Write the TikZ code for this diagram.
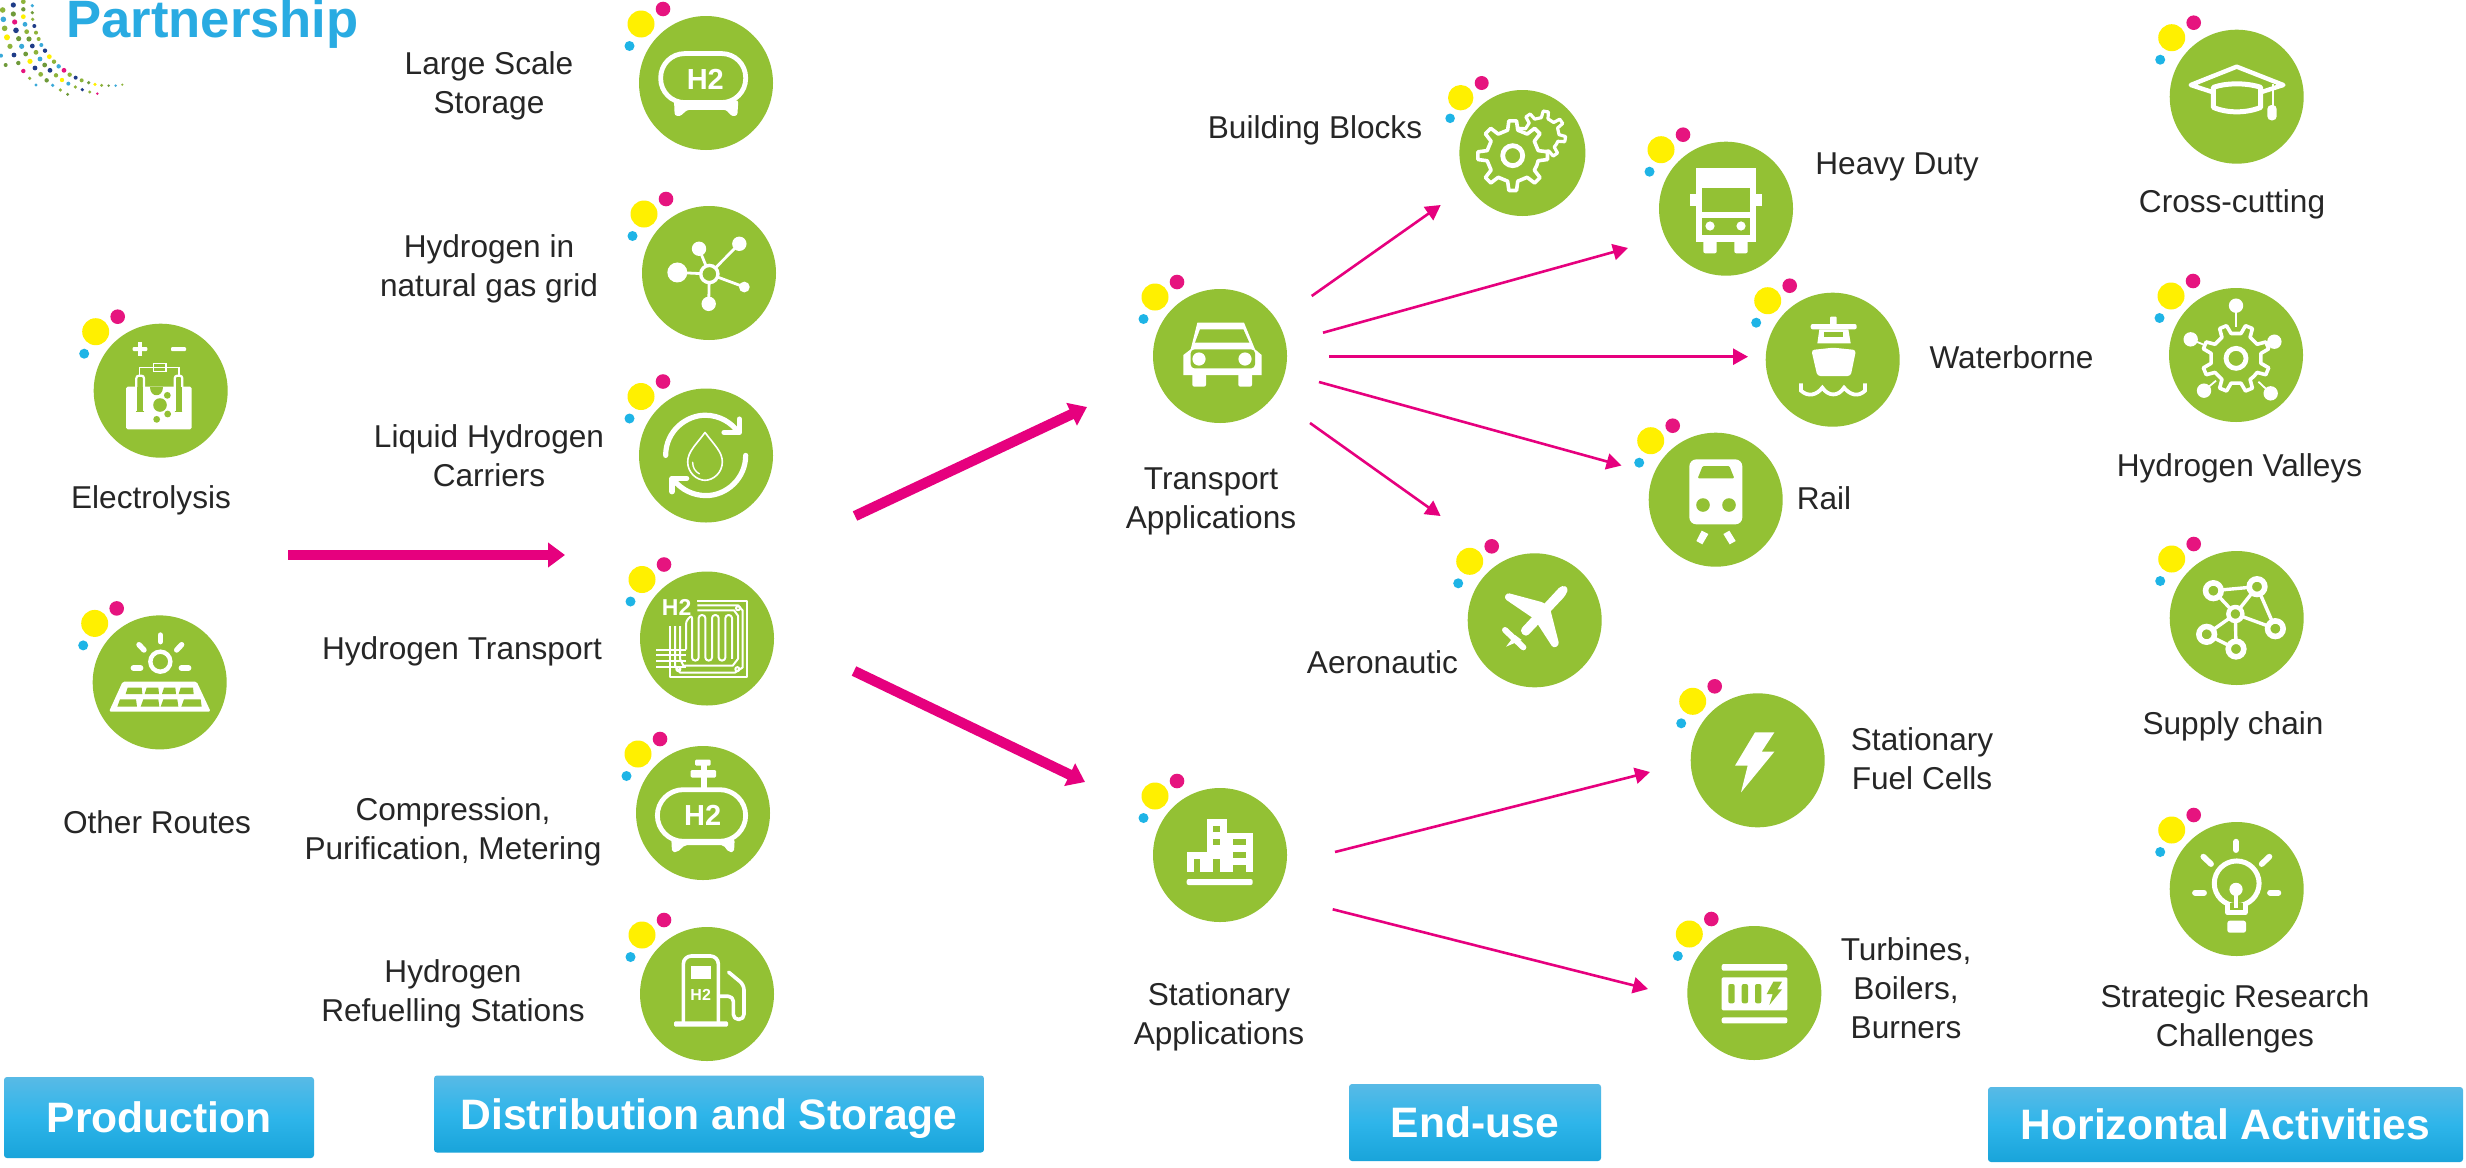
\documentclass[tikz,border=0pt]{standalone}
\usepackage{fontspec}
\setmainfont{Liberation Sans}
\usetikzlibrary{arrows.meta,calc}
\definecolor{hubgreen}{HTML}{93C134}
\definecolor{dotyel}{HTML}{FFF000}
\definecolor{dotmag}{HTML}{E6147F}
\definecolor{dotblu}{HTML}{1EB4E6}
\definecolor{arrmag}{HTML}{E6007E}
\definecolor{txt}{HTML}{262626}
\definecolor{hdtop}{HTML}{58BAE6}
\definecolor{hdmid}{HTML}{2EB5EA}
\definecolor{hdbot}{HTML}{19A4DA}
\definecolor{lnavy}{HTML}{1F3C88}
\definecolor{lolive}{HTML}{8DB33A}
\definecolor{ldark}{HTML}{6F9A3A}
\definecolor{lblue}{HTML}{3AA9D9}
\definecolor{partblue}{HTML}{29ABE2}
\tikzset{
  hubc/.style={circle,fill=hubgreen,draw=none,minimum size=67pt,inner sep=0pt,outer sep=0pt},
  lab/.style={font=\fontsize{15.8}{19.5}\selectfont,text=txt,align=center,inner sep=0pt},
  hdr/.style={rectangle,rounded corners=1.5pt,top color=hdtop,bottom color=hdbot,middle color=hdmid,text=white,
    font=\fontsize{21.3}{25}\selectfont\bfseries,inner sep=0pt,text height=15pt,text depth=0pt},
  thick arrow/.style={draw=arrmag,line width=5.2pt,-{Triangle[length=8.5pt,width=12pt]}},
  thin arrow/.style={draw=arrmag,line width=1.3pt,-{Triangle[length=7.5pt,width=8pt]}},
  wl/.style={draw=white,line cap=round,line join=round},
  wf/.style={fill=white},
  gf/.style={fill=hubgreen},
  wtxt/.style={text=white,inner sep=0pt,font=\bfseries},
}
\newcommand\hub[3]{%
  \node[hubc] (#1) at (#2,#3) {};
  \fill[dotyel] (#2-65,#3-59) circle (6.75pt);
  \fill[dotmag] (#2-43,#3-74) circle (3.65pt);
  \fill[dotblu] (#2-76.5,#3-37) circle (2.5pt);
}
\newcommand\gearshape[7]{%
  \begin{scope}[shift={(#1,#2)}]
  \path[#7] ({#6+.5*360/#5}:#4) \foreach \i in {1,...,#5}{
     -- ({#6+\i*360/#5-.25*360/#5}:#4) -- ({#6+\i*360/#5-.14*360/#5}:#3)
     -- ({#6+\i*360/#5+.14*360/#5}:#3) -- ({#6+\i*360/#5+.25*360/#5}:#4)} -- cycle;
  \end{scope}}
\newcommand\zoomiso[2]{\begin{scope}[shift={(#1,#2)},x=.166667pt,y=-.166667pt]}
\begin{document}
\begin{tikzpicture}[x=.5pt,y=-.5pt]
\clip (0,0) rectangle (2466,1167);
\fill[white] (0,0) rectangle (2466,1167);

% ---- logo fragment
\node[anchor=base west,inner sep=0pt,text=partblue,font=\fontsize{26.3}{30}\selectfont\bfseries] (partner) at (66,37.7) {Partnership};
\zoomiso{0}{0}
\foreach \x/\y/\c/\r in {40/15/lnavy/1.3,70/5/lolive/1.2,97/17/lblue/.9,8/30/lolive/1.4,40/42/ldark/1.3,70/28/ldark/1.1,97/38/ldark/.9,
 10/58/lblue/1.4,44/66/dotmag/1.3,70/50/dotyel/1.2,98/58/lolive/.9,75/73/lblue/1.2,103/78/lnavy/1,14/85/lolive/1.4,48/91/lnavy/1.4,80/95/lolive/1.2,108/98/lolive/1,
 21/112/dotyel/1.5,56/116/ldark/1.3,87/117/ldark/1.3,116/117/lolive/1,124/135/lblue/1,30/139/lolive/1.3,65/139/lblue/1.3,97/138/lnavy/1.2,135/152/lnavy/1.1,
 3/167/lblue/1,42/165/lnavy/1.2,77/162/ldark/1.2,108/157/lolive/1.2,148/170/dotyel/1.2,162/185/lolive/1.1,120/177/lblue/1.2,17/195/ldark/1,55/189/ldark/1.1,
 90/184/dotyel/1.3,134/195/ldark/1.2,176/199/lblue/1.1,192/211/dotmag/1.2,105/204/lnavy/1.2,150/211/lnavy/1.2,70/213/dotmag/1.1,209/224/lolive/1.1,227/233/lnavy/1,
 122/223/lolive/1.2,168/226/lolive/1.1,245/241/lolive/1,186/240/dotyel/1.1,140/241/ldark/1.1,266/248/ldark/.9,89/235/lolive/.9,285/253/dotyel/.9,305/256/lolive/.8,
 326/257/ldark/.7,347/257/lblue/.7,367/254/lolive/.6,205/251/lblue/1,226/261/lolive/.9,247/269/lnavy/.9,269/276/lolive/.8,292/281/dotmag/.7,108/255/lblue/.8,
 158/256/lblue/.9,181/270/lolive/.9,203/283/ldark/.8}{
  \fill[\c] (\x,\y) circle (\r pt);
}
\end{scope}

% ---- hubs
\hub{electro}{160.7}{390.7}
\hub{other}{159.7}{682.4}
\hub{large}{706}{83}
\hub{gasgrid}{709}{273}
\hub{liquid}{706}{455.5}
\hub{htrans}{707}{638.5}
\hub{compr}{703}{813}
\hub{refuel}{707}{994}
\hub{transp}{1220}{356}
\hub{stat}{1220}{855}
% Building Blocks is slightly smaller than the others
\node[hubc,minimum size=63pt] (build) at (1522.4,153) {};
\fill[dotyel] (1460.7,97.7) circle (6.35pt);
\fill[dotmag] (1481.7,83) circle (3.5pt);
\fill[dotblu] (1450.1,118.3) circle (2.4pt);
\hub{heavy}{1726}{208.7}
\hub{water}{1832.7}{359.7}
\hub{rail}{1715.7}{499.7}
\hub{aero}{1534.7}{620.3}
\hub{fuelc}{1757.7}{760.3}
\hub{turb}{1754.3}{993}
\hub{cross}{2236.7}{96.7}
\hub{valley}{2236}{355}
\hub{supply}{2236.7}{618}
\hub{strat}{2236.7}{889}

% ---- Electrolysis icon
\zoomiso{60}{290}
\fill[white,rounded corners=.8pt] (198,290) rectangle (395,418);
\fill[white] (232,172) rectangle (248,182); \fill[white] (235,155) rectangle (245,199);
\fill[white,rounded corners=.5pt] (218,171) rectangle (262,183);
\fill[white,rounded corners=.5pt] (333,171) rectangle (378,183);
\draw[white,line width=.7pt] (238,262)--(238,232)--(357,232)--(357,262);
\draw[white,line width=.7pt,fill=hubgreen] (280,220) rectangle (318,245);
\draw[white,line width=.7pt] (280,232)--(318,232);
\draw[white,fill=hubgreen,line width=1.1pt,rounded corners=1.3pt] (229,365)--(229,257)--(252,257)--(252,365);
\draw[white,fill=hubgreen,line width=1.1pt,rounded corners=1.3pt] (344,365)--(344,257)--(367,257)--(367,365);
\fill[hubgreen] (231,290) rectangle (250,362);
\fill[hubgreen] (347,290) rectangle (365,362);
\fill[hubgreen] (229,362) rectangle (252,366);
\fill[hubgreen] (344,362) rectangle (367,366);
\fill[hubgreen] (270,290) .. controls (270,325) and (310,325) .. (310,290) -- cycle;
\fill[hubgreen] (300,345) circle (3.4pt);
\fill[hubgreen] (322,316) circle (1.7pt);
\fill[hubgreen] (323,372) circle (1.7pt);
\fill[hubgreen] (290,388) circle (1.7pt);
\end{scope}

% ---- Other routes icon (sun + panel)
\zoomiso{90}{610}
\draw[white,line width=2.2pt] (211,155) circle (5pt);
\foreach \a/\b/\c/\d in {211/75/211/95,147/104/162/120,275/104/260/120,130/174/152/174,274/174/296/174}{
  \draw[wl,line width=2.7pt] (\a,\b)--(\c,\d);}
\fill[white,rounded corners=.8pt] (98,215)--(320,215)--(362,305)--(57,305)--cycle;
\foreach \a/\b in {113/155,170/205,222/256,272/309}{\fill[hubgreen] (\a,233) -- (\b,233) -- (\b+2,252) -- (\a-6,252) -- cycle;}
\foreach \a/\b in {90/138,160/205,220/262,282/332}{\fill[hubgreen] (\a,268) -- (\b,268) -- (\b+3,290) -- (\a-8,290) -- cycle;}
\end{scope}

% ---- Large scale storage
\begin{scope}[shift={(600,0)},x=.166667pt,y=-.19135pt]
\fill[white,rounded corners=1.2pt] (222,262)--(224,302)--(240,304)--(262,287)--(378,287)--(396,304)--(412,302)--(415,262)--cycle;
\draw[draw=white,fill=hubgreen,line width=2.4pt,rounded corners=12pt] (182,140) rectangle (437,268);
\node[wtxt,font=\fontsize{14.5}{16}\selectfont\bfseries] (h2large) at (316,208) {H2};
\end{scope}

% ---- Gas grid icon
\begin{scope}[shift={(600,0)},x=.166667pt,y=-.19135pt]
\foreach \a/\b in {232/712,297/650,418/637,433/750,326/794}{\draw[white,line width=1.4pt] (328,716)--(\a,\b);}
\fill[white] (232,712) circle (5pt);
\fill[white] (297,650) circle (3.6pt);
\fill[white] (418,637) circle (3.6pt);
\fill[white] (433,750) circle (2.7pt);
\fill[white] (326,794) circle (3.6pt);
\draw[white,fill=hubgreen,line width=1.7pt] (328,716) circle (4.3pt);
\end{scope}

% ---- Liquid carriers icon
\begin{scope}[shift={(600,0)},x=.166667pt,y=-.19135pt]
\draw[wl,line width=2.6pt] (197,1190) .. controls (197,1125) and (260,1085) .. (315,1085) .. controls (360,1085) and (395,1105) .. (415,1130);
\draw[wl,line width=2.6pt] (372,1130)--(418,1130)--(418,1095);
\draw[wl,line width=2.6pt] (437,1190) .. controls (437,1250) and (380,1295) .. (318,1295) .. controls (280,1295) and (245,1280) .. (222,1255);
\draw[wl,line width=2.6pt] (260,1250)--(216,1250)--(216,1285);
\draw[wl,line width=.8pt] (315,1130) .. controls (290,1160) and (263,1180) .. (263,1207) .. controls (263,1235) and (290,1255) .. (315,1255) .. controls (340,1255) and (367,1235) .. (367,1207) .. controls (367,1180) and (340,1160) .. (315,1130) -- cycle;
\draw[wl,line width=.7pt] (278,1208) .. controls (278,1222) and (285,1232) .. (298,1238);
\end{scope}

% ---- Hydrogen transport icon
\begin{scope}[shift={(600,540)},x=.166667pt,y=-.17218pt]
\node[wtxt,font=\fontsize{11.5}{13}\selectfont\bfseries] (h2trans) at (230,195) {H2};
\begin{scope}[line width=1pt,draw=white,line join=round]
\draw[white] (292,176)--(440,176)--(440,398)--(210,398)--(210,250);
\draw[white] (292,190)--(415,190)--(428,205)--(428,370)--(405,385)--(240,385)--(225,365)--(225,250);
\draw[white] (292,204)--(402,204)--(414,220)--(414,345)--(398,365)--(250,365)--(240,345)--(240,250);
\draw[white,rounded corners=1.5pt] (258,318)--(258,235)--(276,218)--(276,350)--(296,350)--(296,218)--(316,218)--(316,350)--(336,350)--(336,218)--(356,218)--(356,350)--(376,350)--(376,218)--(396,218)--(396,345);
\foreach \yy in {318,335,352,370}{\draw[white] (168,\yy)--(258,\yy);}
\draw[white] (235,375) circle (1pt) (412,375) circle (1pt) (414,198) circle (1pt);
\end{scope}
\end{scope}

% ---- Compression icon
\begin{scope}[shift={(600,540)},x=.166667pt,y=-.17218pt]
\fill[white,rounded corners=1pt] (214,870)--(216,906)--(232,906)--(255,886)--(370,886)--(386,906)--(402,906)--(404,870)--cycle;
\draw[draw=white,fill=hubgreen,line width=2.4pt,rounded corners=13pt] (172,725) rectangle (437,875);
\fill[white] (302,640) rectangle (320,722);
\fill[white,rounded corners=.6pt] (272,668) rectangle (348,690);
\fill[white,rounded corners=.6pt] (285,638) rectangle (332,655);
\node[wtxt,font=\fontsize{14.5}{16}\selectfont\bfseries] (h2comp) at (308,800) {H2};
\end{scope}

% ---- Refuelling icon
\begin{scope}[shift={(600,540)},x=.166667pt,y=-.17218pt]
\draw[white,line width=1.8pt,line join=round,rounded corners=4pt] (250,1405)--(250,1208)--(355,1208)--(355,1405);
\fill[white] (272,1238) rectangle (333,1275);
\node[wtxt,font=\fontsize{8}{9}\selectfont\bfseries] (h2ref) at (302,1320) {H2};
\fill[white,rounded corners=.6pt] (222,1398) rectangle (384,1413);
\draw[wl,line width=1.8pt,rounded corners=2.5pt] (358,1325)--(400,1325)--(400,1392)--(432,1392)--(432,1292)--(386,1255);
\end{scope}

% ---- Car icon
\zoomiso{1120}{60}
\fill[white] (232,788)--(372,788)--(405,868)--(425,885)--(425,945)--(190,945)--(190,885)--(212,868)--cycle;
\fill[hubgreen] (240,808)--(370,808)--(388,848)--(225,848)--cycle;
\fill[hubgreen,rounded corners=2pt] (212,925)--(212,868)--(405,868)--(405,925)--cycle;
\fill[white] (237,897) circle (3.3pt);
\fill[white] (375,897) circle (3.3pt);
\fill[white,rounded corners=1pt] (217,940) rectangle (258,980);
\fill[white,rounded corners=1pt] (355,940) rectangle (396,980);
% ---- Cogs
\gearshape{1265}{225}{72}{52}{8}{10}{draw=white,line width=1.6pt,line join=round}
\gearshape{1178}{287}{105}{78}{8}{0}{draw=white,fill=hubgreen,line width=1.8pt,line join=round}
\draw[white,line width=2.4pt] (1178,287) circle (5pt);
\end{scope}

% ---- Truck, ship, rail
\zoomiso{1620}{120}
\fill[white] (228,143) rectangle (408,365);
\fill[hubgreen] (246,203) rectangle (390,275);
\fill[hubgreen] (246,293) rectangle (390,345);
\fill[white] (270,318) circle (2.3pt);
\fill[white] (363,318) circle (2.3pt);
\fill[white] (210,222) rectangle (228,258);
\fill[white] (408,222) rectangle (426,258);
\fill[white,rounded corners=1pt] (250,360) rectangle (290,400);
\fill[white,rounded corners=1pt] (343,360) rectangle (383,400);
% ship
\fill[white,rounded corners=.5pt] (630,590) rectangle (650,615);
\fill[white,rounded corners=1pt] (572,612) rectangle (710,628);
\fill[white] (598,628)--(685,628)--(692,670)--(592,670)--cycle;
\fill[hubgreen] (612,635) rectangle (668,650);
\fill[white,rounded corners=1.5pt] (574,690)--(640,683)--(708,690)--(692,768)--(592,768)--cycle;
\draw[white,line width=1.9pt] (543,790)--(543,812) .. controls (565,832) and (590,825) .. (607,803) .. controls (625,830) and (655,830) .. (672,803) .. controls (690,825) and (715,832) .. (735,812)--(735,790);
% rail
\fill[white,rounded corners=3.5pt] (208,1018) rectangle (367,1213);
\fill[hubgreen,rounded corners=.6pt] (248,1038)--(328,1038)--(343,1075)--(233,1075)--cycle;
\fill[hubgreen] (249,1155) circle (3.4pt);
\fill[hubgreen] (327,1155) circle (3.4pt);
\fill[white] (245,1232)--(265,1242)--(247,1273)--(229,1263)--cycle;
\fill[white] (310,1242)--(328,1232)--(347,1263)--(329,1273)--cycle;
\end{scope}

% ---- Plane and building
\zoomiso{1120}{540}
\fill[white,rounded corners=2pt] (1325,135)--(1346,142)--(1338,165)--(1218,292)--(1198,272)--cycle;
\fill[white,rounded corners=1.5pt] (1160,158)--(1272,188)--(1295,210)--(1240,235)--(1152,175)--cycle;
\fill[white,rounded corners=1.5pt] (1290,205)--(1318,315)--(1300,325)--(1245,240)--cycle;
\draw[wl,line width=3pt] (1155,270)--(1210,322);
\fill[white] (1185,285)--(1205,300)--(1158,320)--cycle;
% building
\fill[white] (260,838) rectangle (320,995);
\fill[white] (320,878) rectangle (400,995);
\fill[white] (200,937) rectangle (260,995);
\fill[hubgreen] (280,858) rectangle (300,875);
\fill[hubgreen] (280,897) rectangle (300,915);
\fill[hubgreen] (338,897) rectangle (378,915);
\fill[hubgreen] (338,937) rectangle (378,955);
\fill[hubgreen] (222,957) rectangle (240,997);
\fill[hubgreen] (280,957) rectangle (300,997);
\fill[hubgreen] (340,975) rectangle (378,997);
\fill[white,rounded corners=1pt] (200,1017) rectangle (398,1035);
\end{scope}

% ---- Bolt and turbines
\zoomiso{1660}{670}
\fill[white] (285,187)--(343,187)--(305,245)--(343,245)--(243,367)--(263,287)--(225,287)--cycle;
\fill[white,rounded corners=1pt] (185,882) rectangle (382,902);
\fill[white,rounded corners=.6pt] (185,922) rectangle (382,1021);
\fill[white,rounded corners=1pt] (185,1042) rectangle (382,1060);
\foreach \a in {205,245,285}{\fill[hubgreen,rounded corners=1pt] (\a,942) rectangle (\a+19,1000);}
\fill[hubgreen] (340,935)--(366,935)--(352,958)--(366,958)--(328,1005)--(338,972)--(320,972)--cycle;
\end{scope}

% ---- Cross-cutting cap & valleys
\zoomiso{2130}{10}
\draw[wl,line width=2.2pt,fill=hubgreen] (182,225)--(320,170)--(460,225)--(320,270)--cycle;
\draw[wl,line width=2.5pt,fill=hubgreen] (250,232) .. controls (290,218) and (350,218) .. (392,232) -- (392,292) .. controls (350,310) and (290,310) .. (250,292) -- cycle;
\draw[white,line width=1pt] (428,222)--(428,290);
\fill[white,rounded corners=2pt] (412,285) rectangle (440,331);
% valleys
\foreach \a/\b/\c/\d in {318/887/318/950,182/988/248/1015,433/995/385/1017,222/1142/258/1112,422/1150/385/1115}{
  \draw[white,line width=.9pt] (\a,\b)--(\c,\d);
  \fill[white] (\a,\b) circle (3.6pt);}
\gearshape{318}{1045}{102}{76}{8}{22.5}{draw=white,fill=hubgreen,line width=1.8pt,line join=round}
\draw[white,line width=2.4pt] (318,1045) circle (5pt);
\end{scope}

% ---- Supply chain & bulb
\zoomiso{2130}{530}
\foreach \a/\b/\c/\d in {250/182/381/170,250/182/316/252,381/170/316/252,381/170/436/296,316/252/436/296,316/252/230/313,316/252/318/357,230/313/318/357}{
  \draw[white,line width=1.7pt] (\a,\b)--(\c,\d);}
\foreach \a/\b in {250/182,381/170,230/313,436/296,318/357}{\draw[white,fill=hubgreen,line width=2.8pt] (\a,\b) circle (3.9pt);}
\draw[white,fill=hubgreen,line width=2.2pt] (316,252) circle (3.5pt);
% bulb
\draw[white,line width=2.5pt,fill=hubgreen] (320,1060) circle (11.2pt);
\fill[hubgreen] (300,1118) rectangle (338,1142);
\draw[wl,line width=2.5pt] (293,1124)--(293,1148)--(345,1148)--(345,1124);
\fill[white] (318,1078) circle (3.3pt);
\draw[white,line width=2pt] (318,1085)--(318,1135);
\fill[white,rounded corners=1.2pt] (292,1172) rectangle (348,1208);
\foreach \a/\b/\c/\d in {318/935/318/960,220/980/243/1002,418/980/395/1002,195/1088/222/1088,420/1088/445/1088}{
  \draw[wl,line width=2.9pt] (\a,\b)--(\c,\d);}
\end{scope}

% ---- labels
\node[lab] (lelectro) at (151,500) {Electrolysis};
\node[lab] (lother) at (157,822) {Other Routes};
\node[lab] (llarge) at (489,86) {Large Scale\\Storage};
\node[lab] (lgrid) at (489,269) {Hydrogen in\\natural gas grid};
\node[lab] (lliquid) at (489,456) {Liquid Hydrogen\\Carriers};
\node[lab] (lhtrans) at (462,651) {Hydrogen Transport};
\node[lab] (lcompr) at (453,832) {Compression,\\Purification, Metering};
\node[lab] (lrefuel) at (453,994) {Hydrogen\\Refuelling Stations};
\node[lab] (lbuild) at (1315,130.5) {Building Blocks};
\node[lab] (lheavy) at (1897,166.5) {Heavy Duty};
\node[lab] (ltransp) at (1211,501) {Transport\\Applications};
\node[lab] (lwater) at (2011.5,357) {Waterborne};
\node[lab] (lrail) at (1824,498.5) {Rail};
\node[lab] (laero) at (1382.5,662) {Aeronautic};
\node[lab] (lfuel) at (1922,759) {Stationary\\Fuel Cells};
\node[lab] (lstat) at (1219,1017) {Stationary\\Applications};
\node[lab] (lturb) at (1906,987.7) {Turbines,\\Boilers,\\Burners};
\node[lab] (lcross) at (2232,204) {Cross-cutting};
\node[lab] (lvalley) at (2239.5,468.5) {Hydrogen Valleys};
\node[lab] (lsupply) at (2233,726.5) {Supply chain};
\node[lab] (lstrat) at (2235,1019) {Strategic Research\\Challenges};

% ---- headers
\node[hdr,minimum width=155pt,minimum height=40.5pt] (hprod) at (159,1117.5) {Production};
\node[hdr,minimum width=275pt,minimum height=38.5pt] (hdist) at (709,1114) {Distribution and Storage};
\node[hdr,minimum width=126pt,minimum height=38.5pt] (hend) at (1475,1122.5) {End-use};
\node[hdr,minimum width=237.5pt,minimum height=37.5pt] (hhor) at (2225.5,1124.5) {Horizontal Activities};

% ---- connectors
\coordinate (pa) at (288,555); \coordinate (pb) at (565,555);
\coordinate (da) at (855,516); \coordinate (db) at (1087,407);
\coordinate (sa) at (854,671); \coordinate (sb) at (1085,782);
\draw[thick arrow] (pa) -- (pb);
\draw[thick arrow] (da) -- (db);
\draw[thick arrow] (sa) -- (sb);
\coordinate (t1a) at (1311.7,296); \coordinate (t1b) at (1440.7,205);
\coordinate (t2a) at (1323,332.7); \coordinate (t2b) at (1628,248);
\coordinate (t3a) at (1329,356.7); \coordinate (t3b) at (1748,356.7);
\coordinate (t4a) at (1319,382); \coordinate (t4b) at (1621.5,465.5);
\coordinate (t5a) at (1310,423); \coordinate (t5b) at (1440.6,516);
\coordinate (s1a) at (1335,852); \coordinate (s1b) at (1650,772);
\coordinate (s2a) at (1332.7,909.3); \coordinate (s2b) at (1648,989);
\foreach \p in {t1,t2,t3,t4,t5,s1,s2}{\draw[thin arrow] (\p a) -- (\p b);}
\end{tikzpicture}
\end{document}
